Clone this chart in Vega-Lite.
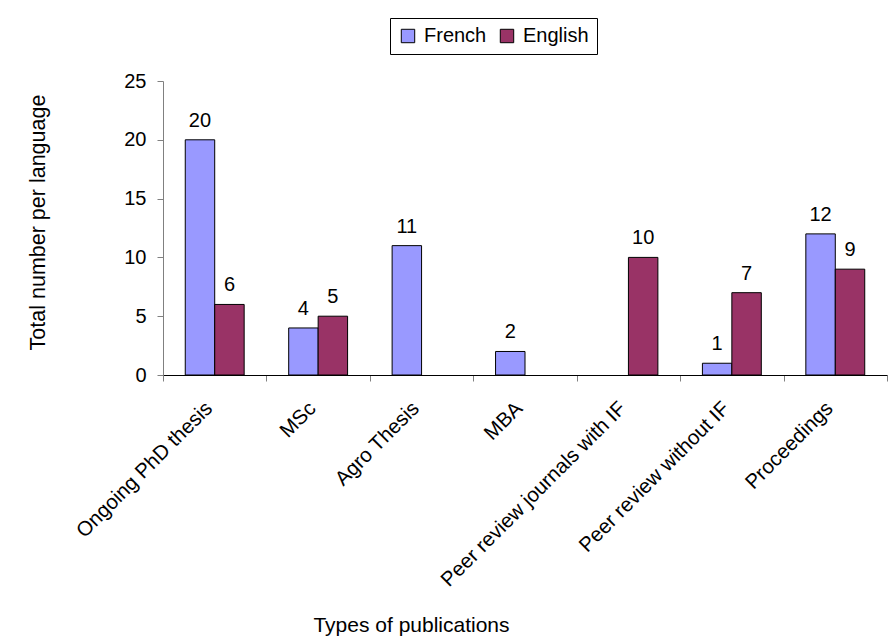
{
  "$schema": "https://vega.github.io/schema/vega-lite/v6.json",
  "width": 724,
  "height": 294,
  "autosize": {"type": "none"},
  "padding": {"left": 163, "top": 81, "right": 5, "bottom": 267},
  "background": "white",
  "config": {
    "font": "Liberation Sans",
    "view": {"stroke": null},
    "axis": {"labelFont": "Liberation Sans", "titleFont": "Liberation Sans", "titleFontWeight": "normal", "labelColor": "black", "titleColor": "black"}
  },
  "data": {
    "values": [
      {"type": "Ongoing PhD thesis", "language": "French", "value": 20},
      {"type": "Ongoing PhD thesis", "language": "English", "value": 6},
      {"type": "MSc", "language": "French", "value": 4},
      {"type": "MSc", "language": "English", "value": 5},
      {"type": "Agro Thesis", "language": "French", "value": 11},
      {"type": "MBA", "language": "French", "value": 2},
      {"type": "Peer review journals with IF", "language": "English", "value": 10},
      {"type": "Peer review without IF", "language": "French", "value": 1},
      {"type": "Peer review without IF", "language": "English", "value": 7},
      {"type": "Proceedings", "language": "French", "value": 12},
      {"type": "Proceedings", "language": "English", "value": 9}
    ]
  },
  "encoding": {
    "x": {
      "field": "type",
      "type": "nominal",
      "sort": null,
      "scale": {"paddingInner": 0, "paddingOuter": 0},
      "axis": {
        "title": "Types of publications",
        "titleFontSize": 21,
        "titleX": 248,
        "titleY": 250,
        "titleAnchor": null,
        "titleAlign": "center",
        "titleBaseline": "middle",
        "labelAngle": -45,
        "labelAlign": "right",
        "labelBaseline": "middle",
        "labelFontSize": 20.5,
        "labelPadding": 24,
        "labelOffset": -6,
        "labelLimit": 400,
        "tickBand": "extent",
        "tickSize": 6,
        "tickColor": "#808080",
        "domainColor": "black",
        "labelOverlap": false
      }
    },
    "xOffset": {
      "field": "language",
      "type": "nominal",
      "sort": ["French", "English"],
      "scale": {"domain": ["French", "English"], "paddingInner": 0, "paddingOuter": 0.756}
    },
    "y": {
      "field": "value",
      "type": "quantitative",
      "scale": {"domain": [0, 25], "nice": false},
      "axis": {
        "title": "Total number per language",
        "titleFontSize": 21.5,
        "titleX": -125,
        "titleY": 141,
        "titleAngle": -90,
        "titleAlign": "center",
        "titleBaseline": "middle",
        "values": [0, 5, 10, 15, 20, 25],
        "labelFontSize": 20,
        "labelPadding": 11,
        "tickSize": 6,
        "tickColor": "#808080",
        "domainColor": "#808080",
        "grid": false
      }
    }
  },
  "layer": [
    {
      "mark": {"type": "bar", "stroke": "black", "strokeWidth": 1},
      "encoding": {
        "color": {
          "field": "language",
          "type": "nominal",
          "scale": {"domain": ["French", "English"], "range": ["#9999FF", "#993366"]},
          "legend": {
            "title": null,
            "orient": "none",
            "direction": "horizontal",
            "legendX": 227,
            "legendY": -63,
            "strokeColor": "black",
            "fillColor": "white",
            "padding": 8,
            "symbolType": "square",
            "symbolSize": 180,
            "symbolStrokeColor": "black",
            "symbolStrokeWidth": 1,
            "symbolOpacity": 1,
            "labelFontSize": 20,
            "labelColor": "black",
            "labelOffset": 6,
            "columnPadding": 10
          }
        }
      }
    },
    {
      "mark": {"type": "text", "baseline": "bottom", "dy": -9, "fontSize": 20, "color": "black"},
      "encoding": {"text": {"field": "value", "type": "quantitative"}}
    }
  ]
}
